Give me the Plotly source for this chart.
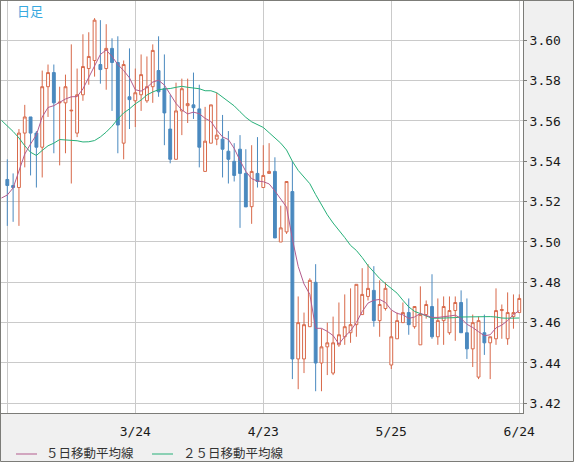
import plotly.graph_objects as go

# ---------------- data ----------------
candle_idx = list(range(89))
opens = [3.531, 3.528, 3.527, 3.554, 3.562, 3.554, 3.547, 3.577, 3.584, 3.569,
         3.569, 3.565, 3.554, 3.573, 3.586, 3.590, 3.588, 3.586, 3.596, 3.589,
         3.549, 3.572, 3.570, 3.573, 3.570, 3.577, 3.585, 3.576, 3.556, 3.541,
         3.565, 3.5676, 3.568, 3.566, 3.535, 3.549, 3.551, 3.551, 3.545, 3.540,
         3.546, 3.534, 3.5175, 3.534, 3.527, 3.534, 3.535, 3.500, 3.505, 3.525,
         3.442, 3.442, 3.458, 3.480, 3.440, 3.448, 3.435, 3.449, 3.453, 3.455,
         3.459, 3.464, 3.473, 3.476, 3.461, 3.467, 3.439, 3.452, 3.460, 3.465,
         3.458, 3.449, 3.464, 3.468, 3.453, 3.461, 3.455, 3.466, 3.470, 3.455,
         3.447, 3.433, 3.455, 3.450, 3.452, 3.466, 3.452, 3.463, 3.465]
highs = [3.541, 3.534, 3.556, 3.568, 3.562, 3.555, 3.585, 3.588, 3.588, 3.577,
         3.583, 3.598, 3.586, 3.603, 3.604, 3.611, 3.610, 3.608, 3.601, 3.602,
         3.590, 3.596, 3.586, 3.593, 3.592, 3.598, 3.602, 3.593, 3.573, 3.579,
         3.581, 3.581, 3.584, 3.578, 3.567, 3.568, 3.574, 3.563, 3.555, 3.549,
         3.553, 3.546, 3.548, 3.552, 3.548, 3.549, 3.542, 3.518, 3.530, 3.540,
         3.473, 3.465, 3.482, 3.489, 3.457, 3.460, 3.463, 3.470, 3.474, 3.477,
         3.479, 3.487, 3.489, 3.488, 3.481, 3.480, 3.466, 3.465, 3.470, 3.472,
         3.468, 3.478, 3.471, 3.484, 3.472, 3.473, 3.473, 3.473, 3.476, 3.472,
         3.464, 3.463, 3.464, 3.453, 3.477, 3.469, 3.475, 3.474, 3.474]
lows = [3.508, 3.510, 3.508, 3.537, 3.533, 3.527, 3.532, 3.562, 3.544, 3.538,
        3.544, 3.529, 3.552, 3.570, 3.578, 3.582, 3.5785, 3.5755, 3.565, 3.544,
        3.541, 3.556, 3.557, 3.565, 3.569, 3.569, 3.572, 3.548, 3.539, 3.541,
        3.553, 3.559, 3.561, 3.537, 3.535, 3.549, 3.548, 3.532, 3.529, 3.530,
        3.507, 3.5175, 3.509, 3.527, 3.527, 3.534, 3.502, 3.500, 3.504, 3.432,
        3.427, 3.435, 3.458, 3.426, 3.426, 3.434, 3.434, 3.448, 3.449, 3.450,
        3.453, 3.464, 3.471, 3.458, 3.453, 3.466, 3.437, 3.452, 3.460, 3.454,
        3.457, 3.449, 3.462, 3.452, 3.449, 3.449, 3.454, 3.451, 3.455, 3.442,
        3.438, 3.432, 3.444, 3.432, 3.449, 3.452, 3.449, 3.457, 3.465]
closes = [3.528, 3.527, 3.554, 3.562, 3.554, 3.547, 3.577, 3.584, 3.569, 3.5693,
          3.577, 3.5653, 3.573, 3.587, 3.592, 3.610, 3.5855, 3.596, 3.589, 3.558,
          3.588, 3.5706, 3.574, 3.583, 3.577, 3.595, 3.5745, 3.564, 3.541, 3.565,
          3.576, 3.5686, 3.5666, 3.547, 3.550, 3.568, 3.553, 3.546, 3.541, 3.533,
          3.534, 3.5174, 3.535, 3.530, 3.533, 3.535, 3.502, 3.507, 3.530, 3.442,
          3.460, 3.459, 3.481, 3.440, 3.448, 3.450, 3.450, 3.454, 3.458, 3.459,
          3.479, 3.474, 3.477, 3.461, 3.469, 3.477, 3.453, 3.461, 3.465, 3.459,
          3.468, 3.464, 3.469, 3.453, 3.461, 3.468, 3.466, 3.470, 3.455, 3.447,
          3.460, 3.461, 3.450, 3.453, 3.466, 3.4665, 3.465, 3.465, 3.472]

ma_idx = list(range(-1, 89))
ma5 = [3.5218, 3.5233, 3.5268, 3.5357, 3.5436, 3.5486, 3.5531, 3.5620, 3.5667, 3.5676,
       3.5694, 3.5709, 3.5720, 3.5721, 3.5759, 3.5816, 3.5880, 3.5930, 3.5952, 3.5920,
       3.5880, 3.5850, 3.5814, 3.5755, 3.5748, 3.5766, 3.5793, 3.5802, 3.5778, 3.5729,
       3.5687, 3.5655, 3.5635, 3.5644, 3.5636, 3.5613, 3.5598, 3.5555, 3.5521, 3.5508,
       3.5464, 3.5404, 3.5350, 3.5314, 3.5302, 3.5299, 3.5288, 3.5253, 3.5212, 3.5173,
       3.5015, 3.4879, 3.4792, 3.4740, 3.4572, 3.4572, 3.4557, 3.4536, 3.4494, 3.4531,
       3.4559, 3.4601, 3.4655, 3.4697, 3.4711, 3.4715, 3.4700, 3.4663, 3.4646, 3.4639,
       3.4621, 3.4628, 3.4646, 3.4635, 3.4626, 3.4626, 3.4628, 3.4633, 3.4637, 3.4621,
       3.4592, 3.4576, 3.4555, 3.4535, 3.4540, 3.4574, 3.4588, 3.4610, 3.4640, 3.4660]
ma25 = [3.5603, 3.5577, 3.5548, 3.5516, 3.5477, 3.5445, 3.5429, 3.5454, 3.5477, 3.5490,
        3.5508, 3.5506, 3.5504, 3.5502, 3.5496, 3.5497, 3.5503, 3.5521, 3.5545, 3.5574,
        3.5610, 3.5640, 3.5660, 3.5685, 3.5704, 3.5729, 3.5744, 3.5755, 3.5759, 3.5761,
        3.5767, 3.5772, 3.5767, 3.5765, 3.5760, 3.5750, 3.5750, 3.5740, 3.5719, 3.5700,
        3.5675, 3.5646, 3.5618, 3.5596, 3.5584, 3.5568, 3.5542, 3.5515, 3.5490, 3.5456,
        3.5400, 3.5355, 3.5322, 3.5289, 3.5235, 3.5183, 3.5135, 3.5094, 3.5059, 3.5022,
        3.4983, 3.4958, 3.4923, 3.4883, 3.4851, 3.4819, 3.4793, 3.4771, 3.4746, 3.4711,
        3.4678, 3.4656, 3.4645, 3.4630, 3.4622, 3.4622, 3.4622, 3.4622, 3.4625, 3.4628,
        3.4629, 3.4630, 3.4630, 3.4630, 3.4630, 3.4628, 3.4623, 3.4622, 3.4622, 3.4623]

x_tick_pos = [0, 22, 44, 66, 88]
x_tick_text = ["", "3/24", "4/23", "5/25", "6/24"]
y_ticks = [3.42, 3.44, 3.46, 3.48, 3.50, 3.52, 3.54, 3.56, 3.58, 3.60]
legend_names = ["５日移動平均線", "２５日移動平均線"]
period_label = "日足"

# ---------------- style ----------------
UP = "#d8694a"
DOWN = "#4a89bf"
MA5_C = "#b35c8e"
MA25_C = "#27b079"
GRID = "#cacaca"
FRAME = "#7c7c78"

W, H = 574, 462
ML, MR, MT, MB = 1, 51, 1, 49
PW, PH = W - ML - MR, H - MT - MB


def px(x):
    return (x - ML) / PW


def py(y):
    return 1 - (y - MT) / PH


fig = go.Figure()
fig.add_trace(go.Candlestick(
    x=candle_idx, open=opens, high=highs, low=lows, close=closes,
    increasing=dict(line=dict(color=UP, width=1), fillcolor="white"),
    decreasing=dict(line=dict(color=DOWN, width=1), fillcolor=DOWN),
    whiskerwidth=0, showlegend=False, hoverinfo="skip",
))
fig.add_trace(go.Scatter(x=ma_idx, y=ma25, mode="lines",
                         line=dict(color=MA25_C, width=1), showlegend=False, hoverinfo="skip"))
fig.add_trace(go.Scatter(x=ma_idx, y=ma5, mode="lines",
                         line=dict(color=MA5_C, width=1), showlegend=False, hoverinfo="skip"))

fig.update_layout(
    width=W, height=H,
    margin=dict(l=ML, r=MR, t=MT, b=MB, pad=0),
    paper_bgcolor="#f0f0f0", plot_bgcolor="white",
    showlegend=False,
    xaxis=dict(
        range=[-1.083, 88.64], rangeslider=dict(visible=False),
        tickmode="array", tickvals=x_tick_pos, ticktext=x_tick_text,
        showgrid=True, gridcolor=GRID, gridwidth=1, zeroline=False,
        ticks="outside", ticklen=6, tickcolor="rgba(0,0,0,0)",
        showline=True, linecolor=FRAME, linewidth=1, mirror=True,
        tickfont=dict(family="DejaVu Sans Mono", size=13, color="#1a1a1a"),
    ),
    yaxis=dict(
        range=[3.4152, 3.6195], side="right",
        tickmode="array", tickvals=y_ticks, tickformat=".2f",
        showgrid=True, gridcolor=GRID, gridwidth=1, zeroline=False,
        ticks="outside", ticklen=3, tickcolor=FRAME,
        showline=True, linecolor=FRAME, linewidth=1, mirror=True,
        tickfont=dict(family="DejaVu Sans Mono", size=13, color="#1a1a1a"),
    ),
    font=dict(family="Noto Sans CJK JP"),
)

shapes = [
    dict(type="rect", xref="paper", yref="paper",
         x0=px(0.5), x1=px(573.5), y0=py(0.5), y1=py(461.5),
         line=dict(color=FRAME, width=1), fillcolor="rgba(0,0,0,0)", layer="above"),
    dict(type="line", xref="paper", yref="paper",
         x0=px(16), x1=px(37), y0=py(454), y1=py(454),
         line=dict(color=MA5_C, width=1)),
    dict(type="line", xref="paper", yref="paper",
         x0=px(152), x1=px(173), y0=py(454), y1=py(454),
         line=dict(color=MA25_C, width=1)),
]
fig.update_layout(shapes=shapes)

annots = [
    dict(text=period_label, x=px(15), y=py(11), xref="paper", yref="paper",
         xanchor="left", yanchor="middle", showarrow=False,
         font=dict(family="Noto Sans CJK JP", size=13, color="#38a9e0")),
    dict(text=legend_names[0], x=px(44), y=py(452.5), xref="paper", yref="paper",
         xanchor="left", yanchor="middle", showarrow=False,
         font=dict(family="Noto Sans CJK JP", size=12.5, color="#333333")),
    dict(text=legend_names[1], x=px(181), y=py(452.5), xref="paper", yref="paper",
         xanchor="left", yanchor="middle", showarrow=False,
         font=dict(family="Noto Sans CJK JP", size=12.5, color="#333333")),
]
fig.update_layout(annotations=annots)

fig.write_html("out.html")
